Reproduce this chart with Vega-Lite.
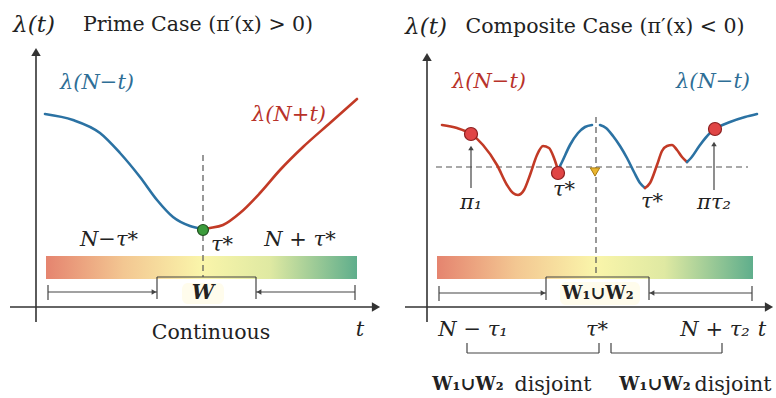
{
  "$schema": "https://vega.github.io/schema/vega-lite/v6.json",
  "width": 776,
  "height": 398,
  "padding": 0,
  "autosize": {"type": "fit", "contains": "padding"},
  "background": "white",
  "config": {"view": {"stroke": null}},
  "resolve": {"scale": {"color": "independent", "fill": "independent", "stroke": "independent", "size": "independent", "shape": "independent"}},
  "datasets": {
    "axes": [
      {"x": 36, "y": 52, "x2": 36, "y2": 322},
      {"x": 10, "y": 307, "x2": 376, "y2": 307},
      {"x": 427, "y": 57, "x2": 427, "y2": 322},
      {"x": 405, "y": 307, "x2": 769, "y2": 307}
    ],
    "heads": [
      {"x": 36, "y": 52, "dir": "up", "g": "big"},
      {"x": 376, "y": 307, "dir": "right", "g": "big"},
      {"x": 427, "y": 57, "dir": "up", "g": "big"},
      {"x": 769, "y": 307, "dir": "right", "g": "big"},
      {"x": 154, "y": 292, "dir": "right", "g": "small"},
      {"x": 259, "y": 292, "dir": "left", "g": "small"},
      {"x": 543, "y": 293, "dir": "right", "g": "small"},
      {"x": 652, "y": 293, "dir": "left", "g": "small"},
      {"x": 471, "y": 148, "dir": "up", "g": "small"},
      {"x": 714, "y": 144, "dir": "up", "g": "small"}
    ],
    "dashed": [
      {"x": 203, "y": 155, "x2": 203, "y2": 277},
      {"x": 596, "y": 117, "x2": 596, "y2": 277},
      {"x": 436, "y": 167, "x2": 748, "y2": 167}
    ],
    "thin": [
      {"x": 157, "y": 277, "x2": 256, "y2": 277},
      {"x": 157, "y": 277, "x2": 157, "y2": 299},
      {"x": 256, "y": 277, "x2": 256, "y2": 299},
      {"x": 48, "y": 292, "x2": 157, "y2": 292},
      {"x": 48, "y": 285, "x2": 48, "y2": 300},
      {"x": 256, "y": 292, "x2": 355, "y2": 292},
      {"x": 355, "y": 285, "x2": 355, "y2": 300},
      {"x": 546, "y": 277, "x2": 649, "y2": 277},
      {"x": 546, "y": 277, "x2": 546, "y2": 300},
      {"x": 649, "y": 277, "x2": 649, "y2": 300},
      {"x": 439, "y": 293, "x2": 546, "y2": 293},
      {"x": 439, "y": 286, "x2": 439, "y2": 301},
      {"x": 649, "y": 293, "x2": 752, "y2": 293},
      {"x": 752, "y": 286, "x2": 752, "y2": 301},
      {"x": 467, "y": 353, "x2": 599, "y2": 353},
      {"x": 467, "y": 343, "x2": 467, "y2": 353},
      {"x": 599, "y": 343, "x2": 599, "y2": 353},
      {"x": 611, "y": 353, "x2": 722, "y2": 353},
      {"x": 611, "y": 343, "x2": 611, "y2": 353},
      {"x": 722, "y": 343, "x2": 722, "y2": 353},
      {"x": 471, "y": 188, "x2": 471, "y2": 150},
      {"x": 714, "y": 190, "x2": 714, "y2": 146}
    ],
    "bars": [
      {"x": 46, "x2": 357, "y": 256, "y2": 279},
      {"x": 437, "x2": 753, "y": 256, "y2": 279}
    ],
    "glow": [
      {"x": 182, "x2": 224, "y": 283, "y2": 304},
      {"x": 560, "x2": 640, "y": 282, "y2": 305}
    ],
    "curves": [
      {"seg": "L1", "col": "blue", "x": 45, "y": 114},
      {"seg": "L1", "col": "blue", "x": 73, "y": 120},
      {"seg": "L1", "col": "blue", "x": 100, "y": 133},
      {"seg": "L1", "col": "blue", "x": 120, "y": 153},
      {"seg": "L1", "col": "blue", "x": 140, "y": 177},
      {"seg": "L1", "col": "blue", "x": 157, "y": 200},
      {"seg": "L1", "col": "blue", "x": 173, "y": 217},
      {"seg": "L1", "col": "blue", "x": 190, "y": 226},
      {"seg": "L1", "col": "blue", "x": 203, "y": 229},
      {"seg": "L2", "col": "red", "x": 203, "y": 229},
      {"seg": "L2", "col": "red", "x": 210, "y": 228},
      {"seg": "L2", "col": "red", "x": 223, "y": 225},
      {"seg": "L2", "col": "red", "x": 240, "y": 213},
      {"seg": "L2", "col": "red", "x": 260, "y": 193},
      {"seg": "L2", "col": "red", "x": 280, "y": 170},
      {"seg": "L2", "col": "red", "x": 303, "y": 147},
      {"seg": "L2", "col": "red", "x": 330, "y": 123},
      {"seg": "L2", "col": "red", "x": 357, "y": 99},
      {"seg": "R1", "col": "red", "x": 442, "y": 125},
      {"seg": "R1", "col": "red", "x": 457, "y": 128},
      {"seg": "R1", "col": "red", "x": 471, "y": 134},
      {"seg": "R1", "col": "red", "x": 483, "y": 145},
      {"seg": "R1", "col": "red", "x": 497, "y": 165},
      {"seg": "R1", "col": "red", "x": 507, "y": 185},
      {"seg": "R1", "col": "red", "x": 513, "y": 193},
      {"seg": "R1", "col": "red", "x": 518, "y": 195},
      {"seg": "R1", "col": "red", "x": 524, "y": 190},
      {"seg": "R1", "col": "red", "x": 530, "y": 175},
      {"seg": "R1", "col": "red", "x": 537, "y": 155},
      {"seg": "R1", "col": "red", "x": 543, "y": 146},
      {"seg": "R1", "col": "red", "x": 549, "y": 148},
      {"seg": "R1", "col": "red", "x": 554, "y": 158},
      {"seg": "R1", "col": "red", "x": 558, "y": 170},
      {"seg": "R2", "col": "blue", "x": 558, "y": 170},
      {"seg": "R2", "col": "blue", "x": 562, "y": 162},
      {"seg": "R2", "col": "blue", "x": 570, "y": 145},
      {"seg": "R2", "col": "blue", "x": 578, "y": 133},
      {"seg": "R2", "col": "blue", "x": 585, "y": 127},
      {"seg": "R2", "col": "blue", "x": 592, "y": 125},
      {"seg": "R3", "col": "blue", "x": 600, "y": 125},
      {"seg": "R3", "col": "blue", "x": 606, "y": 128},
      {"seg": "R3", "col": "blue", "x": 613, "y": 136},
      {"seg": "R3", "col": "blue", "x": 620, "y": 146},
      {"seg": "R3", "col": "blue", "x": 627, "y": 158},
      {"seg": "R3", "col": "blue", "x": 634, "y": 172},
      {"seg": "R3", "col": "blue", "x": 640, "y": 183},
      {"seg": "R3", "col": "blue", "x": 645, "y": 188},
      {"seg": "R4", "col": "red", "x": 645, "y": 188},
      {"seg": "R4", "col": "red", "x": 650, "y": 183},
      {"seg": "R4", "col": "red", "x": 657, "y": 165},
      {"seg": "R4", "col": "red", "x": 662, "y": 151},
      {"seg": "R4", "col": "red", "x": 667, "y": 146},
      {"seg": "R4", "col": "red", "x": 672, "y": 145},
      {"seg": "R4", "col": "red", "x": 677, "y": 150},
      {"seg": "R4", "col": "red", "x": 682, "y": 157},
      {"seg": "R4", "col": "red", "x": 687, "y": 162},
      {"seg": "R5", "col": "blue", "x": 687, "y": 162},
      {"seg": "R5", "col": "blue", "x": 691, "y": 158},
      {"seg": "R5", "col": "blue", "x": 700, "y": 145},
      {"seg": "R5", "col": "blue", "x": 710, "y": 133},
      {"seg": "R5", "col": "blue", "x": 715, "y": 129},
      {"seg": "R5", "col": "blue", "x": 730, "y": 122},
      {"seg": "R5", "col": "blue", "x": 745, "y": 117},
      {"seg": "R5", "col": "blue", "x": 757, "y": 114}
    ],
    "dots": [
      {"x": 203, "y": 230, "kind": "green"},
      {"x": 471, "y": 134, "kind": "red"},
      {"x": 558, "y": 173, "kind": "red"},
      {"x": 715, "y": 129, "kind": "red"}
    ],
    "marker": [
      {"x": 595, "y": 172}
    ],
    "texts": [
      {"t": "Prime Case (π′(x) > 0)", "x": 198, "y": 25, "grp": "normal", "col": "dark"},
      {"t": "Composite Case (π′(x) < 0)", "x": 605, "y": 27, "grp": "normal", "col": "dark"},
      {"t": "Continuous", "x": 211, "y": 333, "grp": "normal", "col": "dark"},
      {"t": "disjoint", "x": 553, "y": 385, "grp": "normal", "col": "dark"},
      {"t": "disjoint", "x": 733, "y": 385, "grp": "normal", "col": "dark"},
      {"t": "λ(t)", "x": 34, "y": 25, "grp": "italicbig", "col": "dark"},
      {"t": "λ(t)", "x": 426, "y": 27, "grp": "italicbig", "col": "dark"},
      {"t": "λ(N−t)", "x": 97, "y": 83, "grp": "italic", "col": "blue"},
      {"t": "λ(N+t)", "x": 289, "y": 115, "grp": "italic", "col": "red"},
      {"t": "λ(N−t)", "x": 489, "y": 82, "grp": "italic", "col": "red"},
      {"t": "λ(N−t)", "x": 713, "y": 82, "grp": "italic", "col": "blue"},
      {"t": "N−τ*", "x": 109, "y": 240, "grp": "italic", "col": "dark"},
      {"t": "τ*", "x": 222, "y": 245, "grp": "italic", "col": "dark"},
      {"t": "N + τ*", "x": 300, "y": 240, "grp": "italic", "col": "dark"},
      {"t": "t", "x": 360, "y": 330, "grp": "italic", "col": "dark"},
      {"t": "π₁", "x": 471, "y": 203, "grp": "italic", "col": "dark"},
      {"t": "τ*", "x": 564, "y": 190, "grp": "italic", "col": "dark"},
      {"t": "τ*", "x": 652, "y": 202, "grp": "italic", "col": "dark"},
      {"t": "πτ₂", "x": 714, "y": 203, "grp": "italic", "col": "dark"},
      {"t": "N − τ₁", "x": 473, "y": 330, "grp": "italic", "col": "dark"},
      {"t": "τ*", "x": 597, "y": 330, "grp": "italic", "col": "dark"},
      {"t": "N + τ₂", "x": 715, "y": 330, "grp": "italic", "col": "dark"},
      {"t": "t", "x": 762, "y": 330, "grp": "italic", "col": "dark"},
      {"t": "W", "x": 203, "y": 293, "grp": "bolditalic", "col": "dark"},
      {"t": "W₁∪W₂", "x": 598, "y": 294, "grp": "bold", "col": "dark"},
      {"t": "W₁∪W₂", "x": 468, "y": 385, "grp": "bold", "col": "dark"},
      {"t": "W₁∪W₂", "x": 655, "y": 385, "grp": "bold", "col": "dark"}
    ]
  },
  "encoding": {
    "x": {"field": "x", "type": "quantitative", "scale": {"domain": [0, 776], "nice": false, "zero": false}, "axis": null},
    "y": {"field": "y", "type": "quantitative", "scale": {"domain": [0, 398], "nice": false, "zero": false, "reverse": true}, "axis": null}
  },
  "layer": [
    {
      "data": {"name": "bars"},
      "mark": {"type": "rect", "fill": {"gradient": "linear", "x1": 0, "y1": 0, "x2": 1, "y2": 0, "stops": [
        {"offset": 0, "color": "#e5846f"},
        {"offset": 0.25, "color": "#f3c792"},
        {"offset": 0.5, "color": "#faf5aa"},
        {"offset": 0.72, "color": "#dfe9a2"},
        {"offset": 1, "color": "#5fae8c"}
      ]}},
      "encoding": {"x2": {"field": "x2"}, "y2": {"field": "y2"}}
    },
    {
      "data": {"name": "glow"},
      "mark": {"type": "rect", "fill": "#fffcea", "opacity": 0.9, "cornerRadius": 6},
      "encoding": {"x2": {"field": "x2"}, "y2": {"field": "y2"}}
    },
    {
      "data": {"name": "axes"},
      "mark": {"type": "rule", "stroke": "#333333", "strokeWidth": 1.6},
      "encoding": {"x2": {"field": "x2"}, "y2": {"field": "y2"}}
    },
    {
      "data": {"name": "dashed"},
      "mark": {"type": "rule", "stroke": "#555555", "strokeWidth": 1.2, "strokeDash": [6, 4]},
      "encoding": {"x2": {"field": "x2"}, "y2": {"field": "y2"}}
    },
    {
      "data": {"name": "thin"},
      "mark": {"type": "rule", "stroke": "#444444", "strokeWidth": 1.2},
      "encoding": {"x2": {"field": "x2"}, "y2": {"field": "y2"}}
    },
    {
      "data": {"name": "heads"},
      "transform": [{"filter": "datum.g === 'big'"}],
      "mark": {"type": "point", "filled": true, "color": "#333333", "size": 90, "opacity": 1},
      "encoding": {"shape": {"field": "dir", "type": "nominal", "scale": {"domain": ["up", "right", "left", "down"], "range": ["triangle-up", "triangle-right", "triangle-left", "triangle-down"]}, "legend": null}}
    },
    {
      "data": {"name": "heads"},
      "transform": [{"filter": "datum.g === 'small'"}],
      "mark": {"type": "point", "filled": true, "color": "#444444", "size": 30, "opacity": 1},
      "encoding": {"shape": {"field": "dir", "type": "nominal", "scale": {"domain": ["up", "right", "left", "down"], "range": ["triangle-up", "triangle-right", "triangle-left", "triangle-down"]}, "legend": null}}
    },
    {
      "data": {"name": "curves"},
      "mark": {"type": "line", "interpolate": "monotone", "strokeWidth": 2.6, "strokeCap": "round"},
      "encoding": {
        "detail": {"field": "seg", "type": "nominal"},
        "color": {"field": "col", "type": "nominal", "scale": {"domain": ["blue", "red"], "range": ["#2b72a3", "#c23a26"]}, "legend": null}
      }
    },
    {
      "data": {"name": "dots"},
      "mark": {"type": "point", "filled": true, "opacity": 1, "strokeWidth": 1.2},
      "encoding": {
        "fill": {"field": "kind", "type": "nominal", "scale": {"domain": ["green", "red"], "range": ["#3b9b3b", "#e04545"]}, "legend": null},
        "stroke": {"field": "kind", "type": "nominal", "scale": {"domain": ["green", "red"], "range": ["#1f4f1f", "#8c2020"]}, "legend": null},
        "size": {"field": "kind", "type": "nominal", "scale": {"domain": ["green", "red"], "range": [120, 170]}, "legend": null}
      }
    },
    {
      "data": {"name": "marker"},
      "mark": {"type": "point", "shape": "triangle-down", "filled": true, "fill": "#eab52e", "stroke": "#a87a10", "strokeWidth": 1, "size": 90, "opacity": 1}
    },
    {
      "data": {"name": "texts"},
      "transform": [{"filter": "datum.grp === 'normal'"}],
      "mark": {"type": "text", "font": "DejaVu Serif", "fontSize": 20.5, "baseline": "middle", "align": "center"},
      "encoding": {
        "text": {"field": "t"},
        "color": {"field": "col", "type": "nominal", "scale": {"domain": ["dark", "blue", "red"], "range": ["#222222", "#2e6e96", "#b8322a"]}, "legend": null}
      }
    },
    {
      "data": {"name": "texts"},
      "transform": [{"filter": "datum.grp === 'italicbig'"}],
      "mark": {"type": "text", "font": "DejaVu Serif", "fontStyle": "italic", "fontSize": 23, "baseline": "middle", "align": "center"},
      "encoding": {
        "text": {"field": "t"},
        "color": {"field": "col", "type": "nominal", "scale": {"domain": ["dark", "blue", "red"], "range": ["#222222", "#2e6e96", "#b8322a"]}, "legend": null}
      }
    },
    {
      "data": {"name": "texts"},
      "transform": [{"filter": "datum.grp === 'italic'"}],
      "mark": {"type": "text", "font": "DejaVu Serif", "fontStyle": "italic", "fontSize": 21, "baseline": "middle", "align": "center"},
      "encoding": {
        "text": {"field": "t"},
        "color": {"field": "col", "type": "nominal", "scale": {"domain": ["dark", "blue", "red"], "range": ["#222222", "#2e6e96", "#b8322a"]}, "legend": null}
      }
    },
    {
      "data": {"name": "texts"},
      "transform": [{"filter": "datum.grp === 'bolditalic'"}],
      "mark": {"type": "text", "font": "DejaVu Serif", "fontStyle": "italic", "fontWeight": "bold", "fontSize": 20, "baseline": "middle", "align": "center"},
      "encoding": {
        "text": {"field": "t"},
        "color": {"field": "col", "type": "nominal", "scale": {"domain": ["dark", "blue", "red"], "range": ["#222222", "#2e6e96", "#b8322a"]}, "legend": null}
      }
    },
    {
      "data": {"name": "texts"},
      "transform": [{"filter": "datum.grp === 'bold'"}],
      "mark": {"type": "text", "font": "DejaVu Serif", "fontWeight": "bold", "fontSize": 18, "baseline": "middle", "align": "center"},
      "encoding": {
        "text": {"field": "t"},
        "color": {"field": "col", "type": "nominal", "scale": {"domain": ["dark", "blue", "red"], "range": ["#222222", "#2e6e96", "#b8322a"]}, "legend": null}
      }
    }
  ]
}
